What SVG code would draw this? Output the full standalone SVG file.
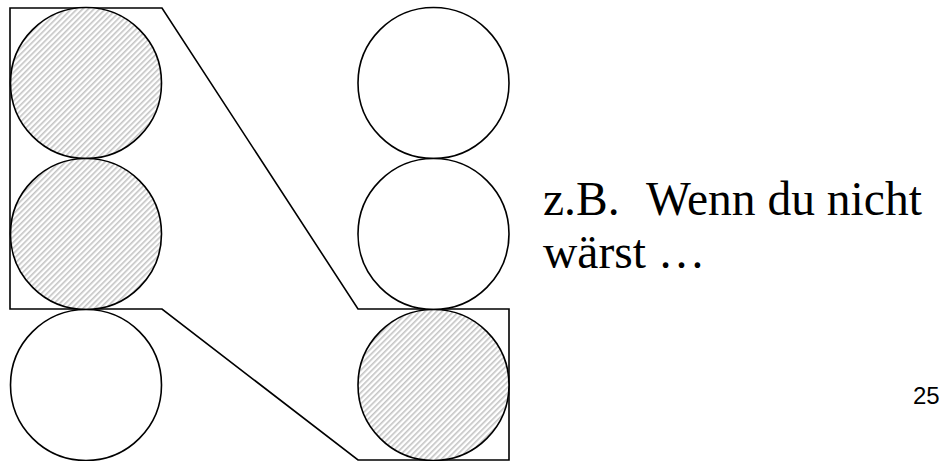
<svg xmlns="http://www.w3.org/2000/svg" width="949" height="461" viewBox="0 0 949 461">
<defs>
<pattern id="hatch" patternUnits="userSpaceOnUse" width="4" height="4" patternTransform="rotate(45)">
<rect width="4" height="4" fill="#ffffff"/>
<rect x="0" y="0" width="1.6" height="4" fill="#c4c4c4"/>
</pattern>
<style>
.c{stroke:#000;stroke-width:1.6;}
.e{fill:#fff;}
.h{fill:url(#hatch);}
.t{font-family:"Liberation Serif","Times New Roman",serif;font-size:47.5px;fill:#000;}
</style>
</defs>
<g id="connectors">
<polygon points="10,8 162,8 358,309 509,309 509,460 358,460 162,309 10,309" fill="none" stroke="#000" stroke-width="1.6"/>
</g>
<g id="left1"><circle class="c h" cx="86" cy="83" r="75.5"/></g>
<g id="left2"><circle class="c h" cx="86" cy="234" r="75.5"/></g>
<g id="left3"><circle class="c e" cx="86" cy="385" r="75.5"/></g>
<g id="right1"><circle class="c e" cx="433.5" cy="83" r="75.5"/></g>
<g id="right2"><circle class="c e" cx="433.5" cy="234" r="75.5"/></g>
<g id="right3"><circle class="c h" cx="433.5" cy="385" r="75.5"/></g>
<g id="label">
<text class="t" y="215"><tspan x="543">z.B.</tspan><tspan x="646">Wenn du nicht</tspan></text>
<text class="t" x="543" y="268">wärst …</text>
</g>
<text x="913" y="404" font-family="'Liberation Sans',Arial,sans-serif" font-size="24" fill="#000">25</text>
</svg>
